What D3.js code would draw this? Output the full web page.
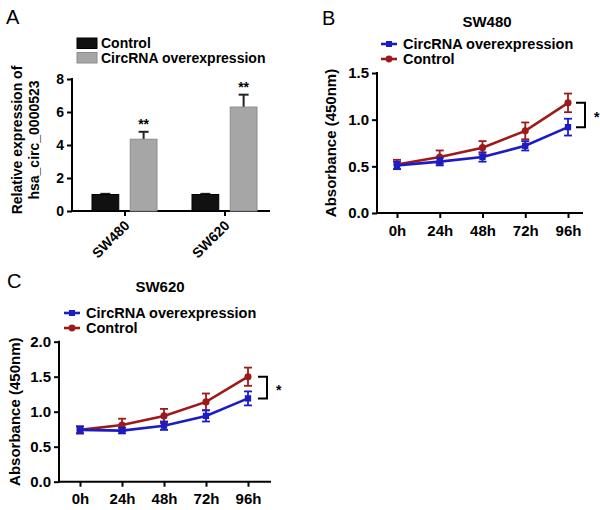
<!DOCTYPE html>
<html>
<head>
<meta charset="utf-8">
<script src="https://cdn.jsdelivr.net/npm/d3@7"></script>
<style>
  body { margin: 0; background: #fff; }
  svg text { font-family: "Liberation Sans", Arial, sans-serif; }
  .bold { font-weight: bold; }
</style>
</head>
<body>
<div id="chart"></div>
<script>
// Panel A data
var groups = ["SW480", "SW620"];
var barSeries = ["Control", "CircRNA overexpression"];
var controlExpr = [1.0, 1.0];
var controlExprErr = [0.04, 0.04];
var circExpr = [4.35, 6.3];
var circExprErr = [0.45, 0.75];
var barColors = ["#111111", "#a6a6a6"];
var exprTicks = [0, 2, 4, 6, 8];

// Panel B/C data
var timePoints = ["0h", "24h", "48h", "72h", "96h"];
var sw480Circ = [0.51, 0.55, 0.60, 0.72, 0.92];
var sw480CircErr = [0.04, 0.04, 0.05, 0.05, 0.09];
var sw480Ctrl = [0.52, 0.60, 0.70, 0.88, 1.18];
var sw480CtrlErr = [0.05, 0.07, 0.07, 0.09, 0.10];
var sw620Circ = [0.74, 0.73, 0.80, 0.94, 1.19];
var sw620CircErr = [0.05, 0.04, 0.06, 0.08, 0.10];
var sw620Ctrl = [0.74, 0.81, 0.94, 1.14, 1.50];
var sw620CtrlErr = [0.05, 0.09, 0.10, 0.12, 0.13];
var sw480Ticks = [0, 0.5, 1.0, 1.5];
var sw620Ticks = [0, 0.5, 1.0, 1.5, 2.0];

var blue = "#1c1cc4";
var red = "#9e1a1a";

var svg = d3.select("#chart").append("svg")
  .attr("width", 600)
  .attr("height", 510);

// panel letters
[["A", 6, 24], ["B", 322, 25], ["C", 7, 288]].forEach(function (p) {
  svg.append("text").attr("x", p[1]).attr("y", p[2])
    .attr("font-size", 20).text(p[0]);
});

function styleAxis(g) {
  g.selectAll("path.domain").remove();
  g.selectAll(".tick line").attr("stroke", "#000").attr("stroke-width", 2);
  g.selectAll(".tick text").attr("class", "bold").attr("fill", "#000");
}

// ---------------- Panel A ----------------
var yA = d3.scaleLinear().domain([0, 8]).range([211, 79]);
var xA = d3.scaleBand().domain(groups).range([75, 275]);
var xInner = d3.scaleBand().domain(barSeries).range([-33, 32]).paddingInner(0.3);

var gA = svg.append("g");

var yAxisA = gA.append("g")
  .attr("transform", "translate(72,0)")
  .call(d3.axisLeft(yA).tickValues(exprTicks).tickSize(5))
  .call(styleAxis);
yAxisA.selectAll(".tick text").attr("font-size", 14);
gA.append("line").attr("x1", 72).attr("x2", 72).attr("y1", 78).attr("y2", 212)
  .attr("stroke", "#000").attr("stroke-width", 2);

var xAxisA = gA.append("g")
  .attr("transform", "translate(0,211)")
  .call(d3.axisBottom(xA).tickSize(5))
  .call(styleAxis);
xAxisA.selectAll(".tick text")
  .attr("font-size", 14)
  .attr("text-anchor", "end")
  .attr("x", 0).attr("y", 0)
  .attr("dy", "0.35em")
  .attr("transform", "translate(2,12) rotate(-45)");
gA.append("line").attr("x1", 71).attr("x2", 270).attr("y1", 211).attr("y2", 211)
  .attr("stroke", "#000").attr("stroke-width", 2);

var barData = [];
groups.forEach(function (g, i) {
  barData.push({ group: g, series: barSeries[0], value: controlExpr[i], err: controlExprErr[i], sig: "" });
  barData.push({ group: g, series: barSeries[1], value: circExpr[i], err: circExprErr[i], sig: "**" });
});

var bars = gA.selectAll(".bar").data(barData).enter().append("g")
  .attr("transform", function (d) { return "translate(" + (xA(d.group) + xA.bandwidth() / 2) + ",0)"; });

// error bars (drawn behind bar)
bars.append("line")
  .attr("x1", function (d) { return xInner(d.series) + xInner.bandwidth() / 2; })
  .attr("x2", function (d) { return xInner(d.series) + xInner.bandwidth() / 2; })
  .attr("y1", function (d) { return yA(d.value); })
  .attr("y2", function (d) { return yA(d.value + d.err); })
  .attr("stroke", "#222").attr("stroke-width", 2);
bars.append("line")
  .attr("x1", function (d) { return xInner(d.series) + xInner.bandwidth() / 2 - 5; })
  .attr("x2", function (d) { return xInner(d.series) + xInner.bandwidth() / 2 + 5; })
  .attr("y1", function (d) { return yA(d.value + d.err); })
  .attr("y2", function (d) { return yA(d.value + d.err); })
  .attr("stroke", "#222").attr("stroke-width", 2);

bars.append("rect")
  .attr("x", function (d) { return xInner(d.series); })
  .attr("width", xInner.bandwidth())
  .attr("y", function (d) { return yA(d.value); })
  .attr("height", function (d) { return yA(0) - yA(d.value); })
  .attr("fill", function (d) { return d.series === barSeries[0] ? barColors[0] : barColors[1]; })
  .attr("stroke", function (d) { return d.series === barSeries[0] ? "#000" : "#8c8c8c"; })
  .attr("stroke-width", 1);

bars.append("text")
  .attr("class", "bold")
  .attr("x", function (d) { return xInner(d.series) + xInner.bandwidth() / 2; })
  .attr("y", function (d) { return yA(d.value + d.err) - 3; })
  .attr("text-anchor", "middle")
  .attr("font-size", 14)
  .text(function (d) { return d.sig; });

// legend A
barSeries.forEach(function (s, i) {
  gA.append("rect").attr("x", 77).attr("y", 38 + i * 14.5).attr("width", 20).attr("height", 10.5)
    .attr("fill", barColors[i]).attr("stroke", i === 0 ? "#000" : "#8c8c8c");
  gA.append("text").attr("class", "bold").attr("x", 101).attr("y", 48 + i * 14.5)
    .attr("font-size", 14).text(s);
});

// y label A
gA.append("text").attr("class", "bold")
  .attr("transform", "translate(22,140) rotate(-90)")
  .attr("text-anchor", "middle").attr("font-size", 14)
  .text("Relative expression of");
gA.append("text").attr("class", "bold")
  .attr("transform", "translate(39,140) rotate(-90)")
  .attr("text-anchor", "middle").attr("font-size", 14)
  .text("hsa_circ_0000523");

// ---------------- Panels B and C ----------------
function linePanel(opt) {
  var g = svg.append("g");
  var x = d3.scalePoint().domain(timePoints).range(opt.xRange);
  var y = d3.scaleLinear().domain([0, opt.yMax]).range(opt.yRange);

  var yAxis = g.append("g")
    .attr("transform", "translate(" + opt.axisX + ",0)")
    .call(d3.axisLeft(y).tickValues(opt.ticks).tickFormat(d3.format(".1f")).tickSize(5))
    .call(styleAxis);
  yAxis.selectAll(".tick text").attr("font-size", 15);
  g.append("line").attr("x1", opt.axisX).attr("x2", opt.axisX)
    .attr("y1", opt.yRange[1] - 1).attr("y2", opt.yRange[0] + 1)
    .attr("stroke", "#000").attr("stroke-width", 2);

  var xAxis = g.append("g")
    .attr("transform", "translate(0," + opt.yRange[0] + ")")
    .call(d3.axisBottom(x).tickSize(5).tickPadding(7))
    .call(styleAxis);
  xAxis.selectAll(".tick text").attr("font-size", 15);
  g.append("line").attr("x1", opt.axisX - 1).attr("x2", opt.axisEnd)
    .attr("y1", opt.yRange[0]).attr("y2", opt.yRange[0])
    .attr("stroke", "#000").attr("stroke-width", 2);

  var series = [
    { name: "Control", values: opt.ctrl, errs: opt.ctrlErr, color: red, shape: d3.symbolCircle },
    { name: "CircRNA overexpression", values: opt.circ, errs: opt.circErr, color: blue, shape: d3.symbolSquare }
  ];

  var line = d3.line()
    .x(function (d, i) { return x(timePoints[i]); })
    .y(function (d) { return y(d); });

  series.forEach(function (s) {
    var sg = g.append("g");
    var pts = s.values.map(function (v, i) { return { t: timePoints[i], v: v, e: s.errs[i] }; });
    sg.selectAll(".eb").data(pts).enter().append("line")
      .attr("x1", function (d) { return x(d.t); }).attr("x2", function (d) { return x(d.t); })
      .attr("y1", function (d) { return y(d.v - d.e); }).attr("y2", function (d) { return y(d.v + d.e); })
      .attr("stroke", s.color).attr("stroke-width", 1.8);
    [-1, 1].forEach(function (sign) {
      sg.selectAll(".cap").data(pts).enter().append("line")
        .attr("x1", function (d) { return x(d.t) - 4; }).attr("x2", function (d) { return x(d.t) + 4; })
        .attr("y1", function (d) { return y(d.v + sign * d.e); }).attr("y2", function (d) { return y(d.v + sign * d.e); })
        .attr("stroke", s.color).attr("stroke-width", 1.8);
    });
    sg.append("path").datum(s.values).attr("d", line)
      .attr("fill", "none").attr("stroke", s.color).attr("stroke-width", 2.6);
    sg.selectAll(".pt").data(pts).enter().append("path")
      .attr("d", d3.symbol().type(s.shape).size(40))
      .attr("transform", function (d) { return "translate(" + x(d.t) + "," + y(d.v) + ")"; })
      .attr("fill", s.color);
  });

  // significance bracket
  var last = timePoints.length - 1;
  var bx = x(timePoints[last]) + opt.bracketDx;
  var yTop = y(opt.ctrl[last]), yBot = y(opt.circ[last]);
  g.append("path")
    .attr("d", "M" + (bx - 9) + "," + yTop + "H" + bx + "V" + yBot + "H" + (bx - 9))
    .attr("fill", "none").attr("stroke", "#000").attr("stroke-width", 2);
  g.append("text").attr("class", "bold").attr("x", bx + 9).attr("y", (yTop + yBot) / 2 + 7)
    .attr("font-size", 14).text("*");

  // title
  g.append("text").attr("class", "bold").attr("x", opt.titleX).attr("y", opt.titleY)
    .attr("text-anchor", "middle").attr("font-size", 15).text(opt.title);

  // legend
  [{ name: "CircRNA overexpression", color: blue, shape: d3.symbolSquare },
   { name: "Control", color: red, shape: d3.symbolCircle }].forEach(function (s, i) {
    var ly = opt.legendY + i * 15;
    g.append("line").attr("x1", opt.legendX).attr("x2", opt.legendX + 16)
      .attr("y1", ly).attr("y2", ly).attr("stroke", s.color).attr("stroke-width", 2.6);
    g.append("path").attr("d", d3.symbol().type(s.shape).size(36))
      .attr("transform", "translate(" + (opt.legendX + 8) + "," + ly + ")").attr("fill", s.color);
    g.append("text").attr("class", "bold").attr("x", opt.legendX + 22).attr("y", ly + 5)
      .attr("font-size", 14.5).text(s.name);
  });

  // y label
  g.append("text").attr("class", "bold")
    .attr("transform", "translate(" + opt.yLabelX + "," + ((opt.yRange[0] + opt.yRange[1]) / 2) + ") rotate(-90)")
    .attr("text-anchor", "middle").attr("font-size", 15)
    .text("Absorbance (450nm)");
}

linePanel({
  title: "SW480", titleX: 487, titleY: 27,
  legendX: 381, legendY: 44,
  xRange: [397, 568], yRange: [213, 73], yMax: 1.5, ticks: sw480Ticks,
  axisX: 377, axisEnd: 583, yLabelX: 336,
  circ: sw480Circ, circErr: sw480CircErr, ctrl: sw480Ctrl, ctrlErr: sw480CtrlErr,
  bracketDx: 17
});

linePanel({
  title: "SW620", titleX: 160, titleY: 292,
  legendX: 64, legendY: 313,
  xRange: [80, 248], yRange: [481.7, 341.7], yMax: 2.0, ticks: sw620Ticks,
  axisX: 59, axisEnd: 271, yLabelX: 20,
  circ: sw620Circ, circErr: sw620CircErr, ctrl: sw620Ctrl, ctrlErr: sw620CtrlErr,
  bracketDx: 19
});
</script>
</body>
</html>
